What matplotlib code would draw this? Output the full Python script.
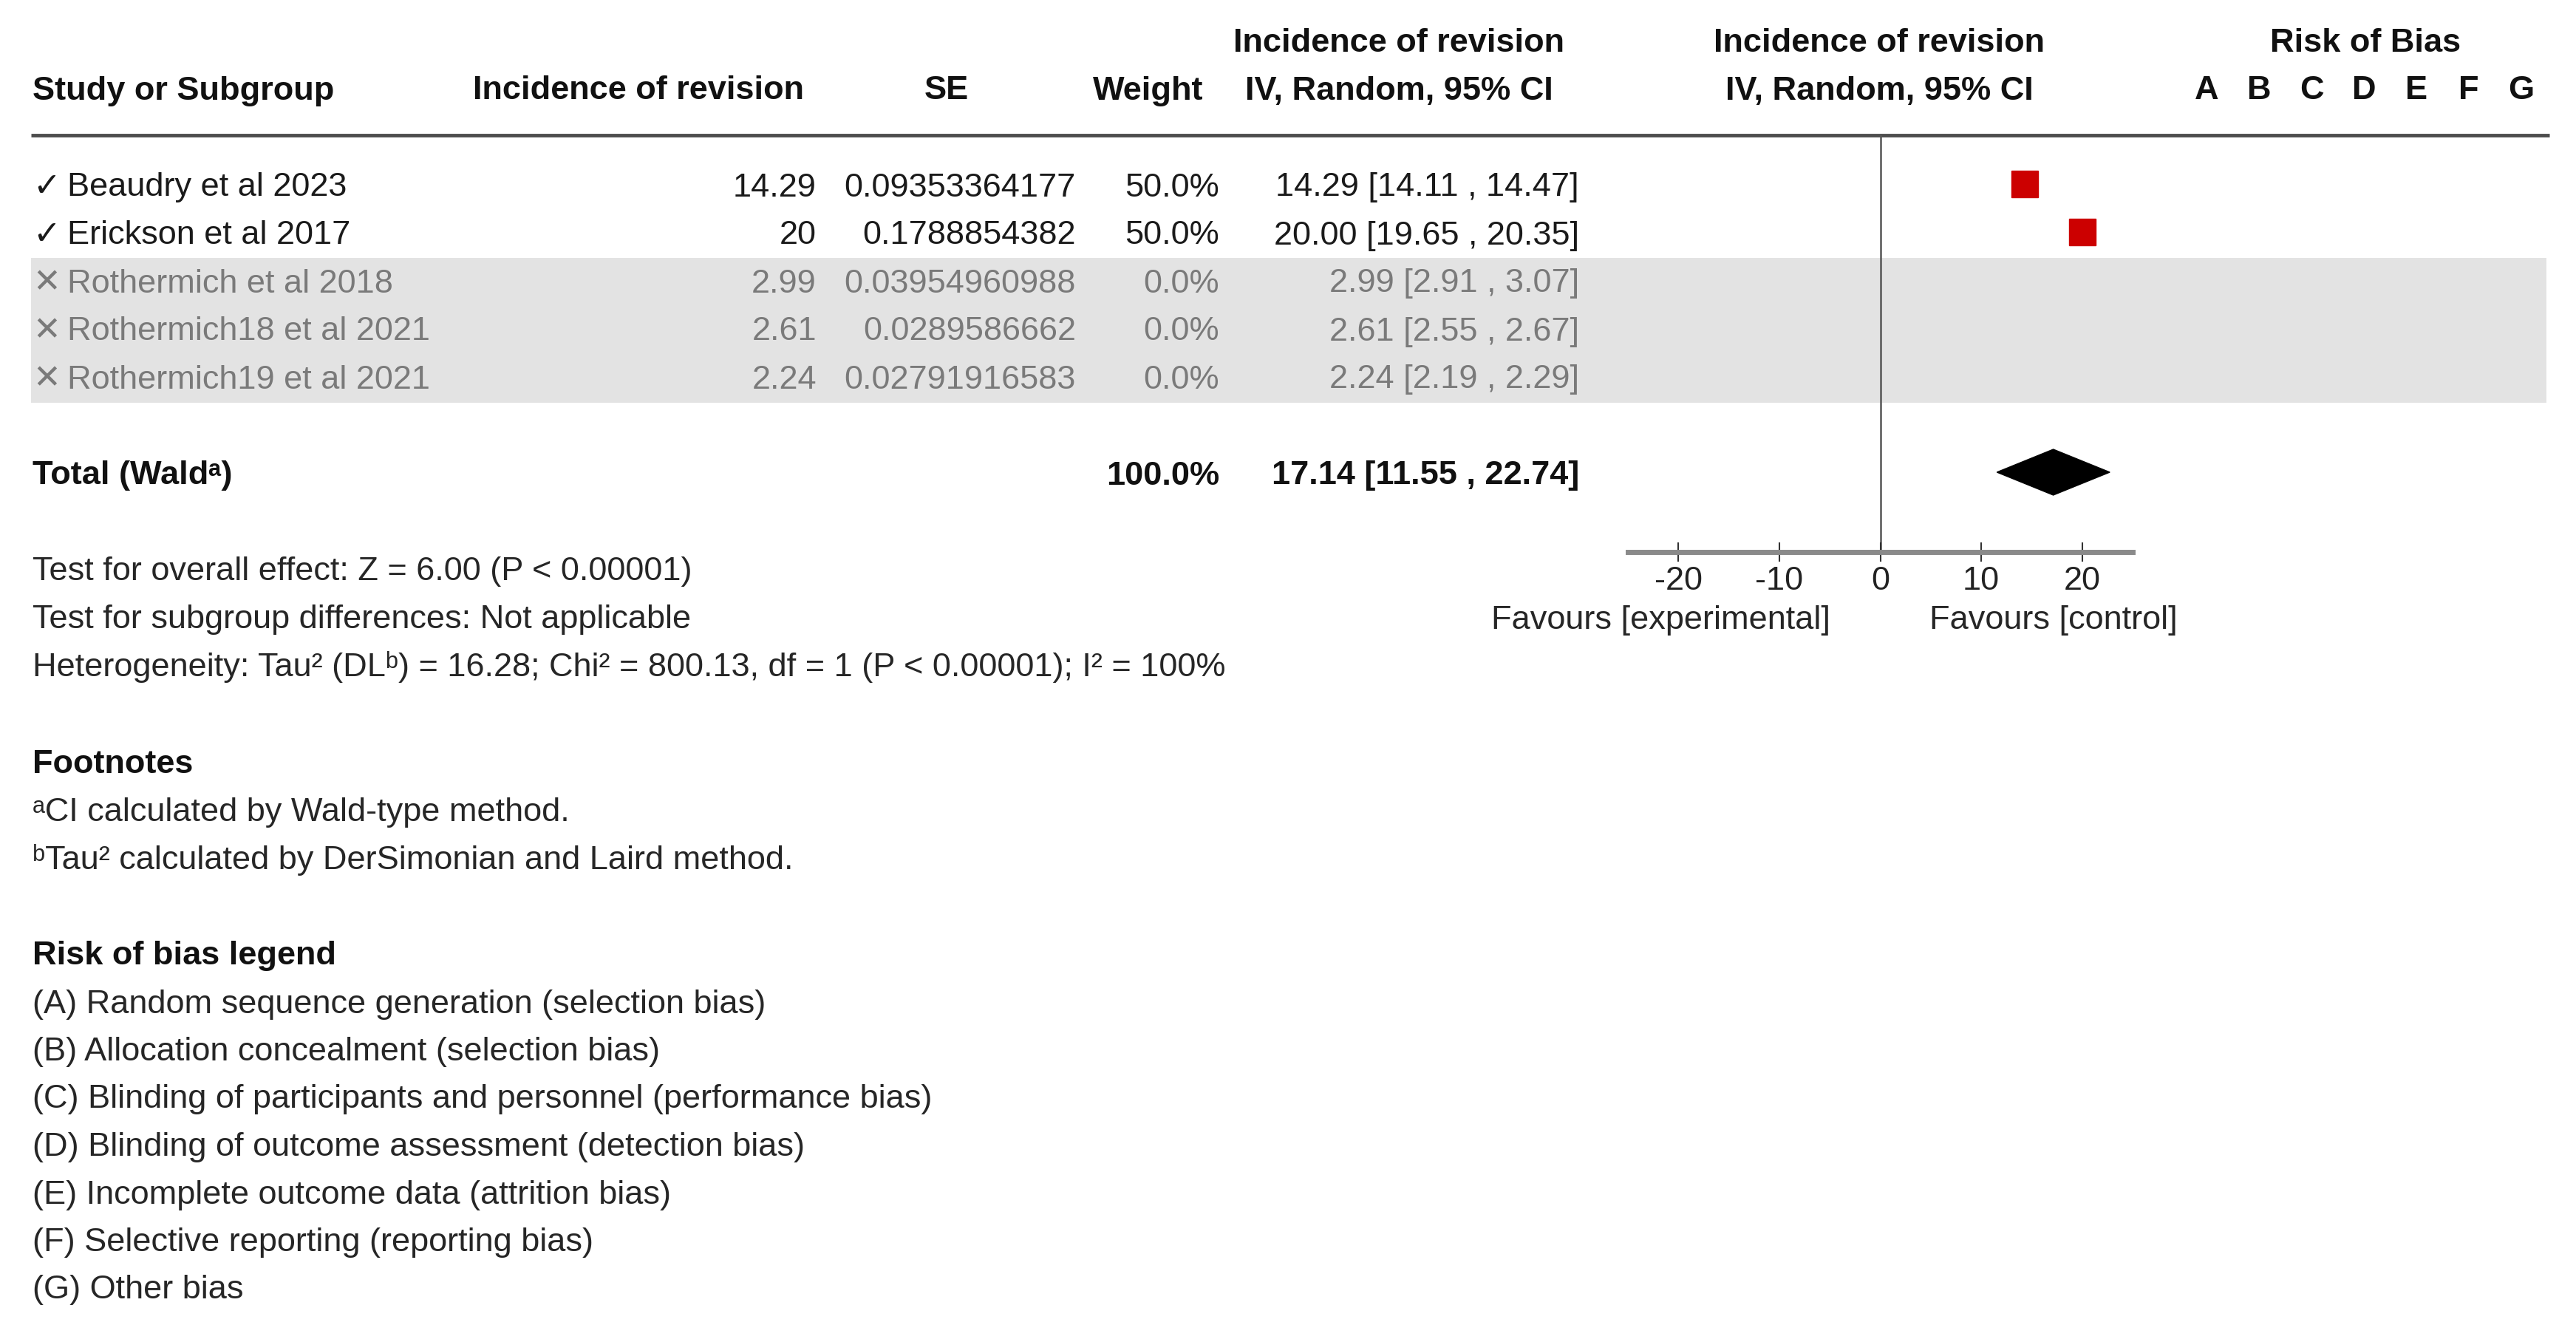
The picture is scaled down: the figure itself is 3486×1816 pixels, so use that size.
import matplotlib.pyplot as plt
from matplotlib.patches import Rectangle, Polygon

plt.rcParams['font.family'] = ['Liberation Sans', 'DejaVu Sans']

# data
studies = ['Beaudry et al 2023', 'Erickson et al 2017', 'Rothermich et al 2018',
           'Rothermich18 et al 2021', 'Rothermich19 et al 2021']
included = [True, True, False, False, False]
incidence = ['14.29', '20', '2.99', '2.61', '2.24']
se = ['0.09353364177', '0.1788854382', '0.03954960988', '0.0289586662', '0.02791916583']
weight = ['50.0%', '50.0%', '0.0%', '0.0%', '0.0%']
est = [14.29, 20.00, 2.99, 2.61, 2.24]
ci_lo = [14.11, 19.65, 2.91, 2.55, 2.19]
ci_hi = [14.47, 20.35, 3.07, 2.67, 2.29]
total_est, total_lo, total_hi = 17.14, 11.55, 22.74
total_weight = '100.0%'
xticks = [-20, -10, 0, 10, 20]
rob_letters = ['A', 'B', 'C', 'D', 'E', 'F', 'G']

stats_lines = [
    'Test for overall effect: Z = 6.00 (P < 0.00001)',
    'Test for subgroup differences: Not applicable',
    'Heterogeneity: Tau² (DLᵇ) = 16.28; Chi² = 800.13, df = 1 (P < 0.00001); I² = 100%',
]
footnotes = ['ᵃCI calculated by Wald-type method.',
             'ᵇTau² calculated by DerSimonian and Laird method.']
rob_legend = [
    '(A) Random sequence generation (selection bias)',
    '(B) Allocation concealment (selection bias)',
    '(C) Blinding of participants and personnel (performance bias)',
    '(D) Blinding of outcome assessment (detection bias)',
    '(E) Incomplete outcome data (attrition bias)',
    '(F) Selective reporting (reporting bias)',
    '(G) Other bias',
]

W, H = 3486, 1816
fig = plt.figure(figsize=(W / 100, H / 100), dpi=100)
fig.patch.set_facecolor('white')

# table layer in pixel coordinates
tab = fig.add_axes([0, 0, 1, 1])
tab.set_xlim(0, W)
tab.set_ylim(H, 0)
tab.axis('off')

fs = 32.5
dark = '#1a1a1a'
grey = '#7a7a7a'
dy = 5  # text baseline nudge

row_y0, row_dy = 249, 65
total_y = row_y0 + 6 * row_dy

# headers
hb = dict(fontsize=fs, fontweight='bold', color='#111111', va='center')
tab.text(44, 118 + dy, 'Study or Subgroup', ha='left', **hb)
tab.text(864, 118 + dy, 'Incidence of revision', ha='center', **hb)
tab.text(1281, 118 + dy, 'SE', ha='center', **hb)
tab.text(1554, 118 + dy, 'Weight', ha='center', **hb)
tab.text(1893, 53 + dy, 'Incidence of revision', ha='center', **hb)
tab.text(1893, 118 + dy, 'IV, Random, 95% CI', ha='center', **hb)
tab.text(2543, 53 + dy, 'Incidence of revision', ha='center', **hb)
tab.text(2543, 118 + dy, 'IV, Random, 95% CI', ha='center', **hb)
tab.text(3201, 53 + dy, 'Risk of Bias', ha='center', **hb)
for i, l in enumerate(rob_letters):
    tab.text(2986 + 71 * i, 118 + dy, l, ha='center', **hb)

tab.plot([42, 3450], [183, 183], color='#4d4d4d', lw=3.5, solid_capstyle='butt')

# grey band for excluded studies
tab.add_patch(Rectangle((42, 349), 3446 - 42, 545 - 349, color='#e3e3e3', lw=0, zorder=0))

for i, name in enumerate(studies):
    y = row_y0 + i * row_dy + dy
    c = dark if included[i] else grey
    kw = dict(fontsize=fs, color=c, va='center')
    tab.text(44, y, '✓' if included[i] else '✕', ha='left', **kw)
    tab.text(91, y, name, ha='left', **kw)
    tab.text(1105, y, incidence[i], ha='right', **kw)
    tab.text(1456, y, se[i], ha='right', **kw)
    tab.text(1650, y, weight[i], ha='right', **kw)
    tab.text(2137, y, f'{est[i]:.2f} [{ci_lo[i]:.2f} , {ci_hi[i]:.2f}]', ha='right', **kw)

tb = dict(fontsize=fs, fontweight='bold', color='#111111', va='center')
tab.text(44, total_y + dy, 'Total (Waldᵃ)', ha='left', **tb)
tab.text(1650, total_y + dy, total_weight, ha='right', **tb)
tab.text(2137, total_y + dy, f'{total_est:.2f} [{total_lo:.2f} , {total_hi:.2f}]', ha='right', **tb)

nk = dict(fontsize=fs, color='#262626', va='center')
for i, s in enumerate(stats_lines):
    tab.text(44, 769 + 64.5 * i + dy, s, ha='left', **nk)

tab.text(44, 1029 + dy, 'Footnotes', fontweight='bold', fontsize=fs, color='#111111', va='center')
for i, s in enumerate(footnotes):
    tab.text(44, 1094 + 64.5 * i + dy, s, ha='left', **nk)

tab.text(44, 1289 + dy, 'Risk of bias legend', fontweight='bold', fontsize=fs, color='#111111', va='center')
for i, s in enumerate(rob_legend):
    tab.text(44, 1354 + 64.5 * i + dy, s, ha='left', **nk)

tab.text(2248, 834 + dy, 'Favours [experimental]', ha='center', **nk)
tab.text(2779, 834 + dy, 'Favours [control]', ha='center', **nk)

# forest plot layer
x0, x1 = 2203, 2886
ytop, ybot = 183, 747
ax = fig.add_axes([x0 / W, 1 - ybot / H, (x1 - x0) / W, (ybot - ytop) / H])
ax.set_facecolor('none')
ax.set_xlim(-25, 25)
ax.set_ylim((ybot - row_y0) / row_dy, (ytop - row_y0) / row_dy)
for s in ['top', 'left', 'right']:
    ax.spines[s].set_visible(False)
ax.spines['bottom'].set_color('#8a8a8a')
ax.spines['bottom'].set_linewidth(5)
ax.set_yticks([])
ax.set_xticks(xticks)
ax.set_xticklabels([str(t) for t in xticks])
ax.tick_params(axis='x', direction='inout', length=19, width=1.5, color='#333333',
               labelsize=fs, labelcolor='#222222', pad=4)
ax.axvline(0, color='#555555', lw=1.8, zorder=1)

for i in range(len(studies)):
    if included[i]:
        ax.plot([ci_lo[i], ci_hi[i]], [i, i], color='black', lw=1.2, zorder=2)
        ax.plot(est[i], i, marker='s', markersize=26, color='#cc0000', mec='#cc0000', zorder=3)

h = 31 / row_dy
ax.add_patch(Polygon([(total_lo, 6), (total_est, 6 - h), (total_hi, 6), (total_est, 6 + h)],
                     closed=True, color='black', zorder=3))

fig.savefig('out.png', dpi=100, facecolor='white')
